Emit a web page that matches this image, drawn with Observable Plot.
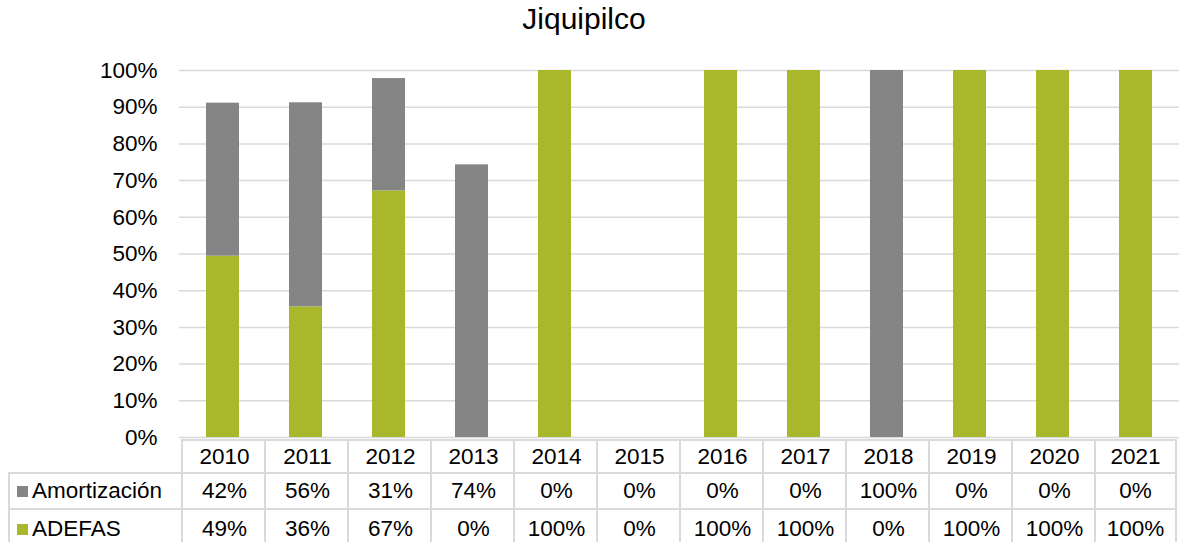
<!DOCTYPE html>
<html>
<head>
<meta charset="utf-8">
<script src="https://cdn.jsdelivr.net/npm/d3@7"></script>
<script src="https://cdn.jsdelivr.net/npm/@observablehq/plot@0.6"></script>
<style>
  html, body { margin: 0; padding: 0; background: #fff; }
  #wrap { position: relative; width: 1180px; height: 542px; overflow: hidden; font-family: "Liberation Sans", Arial, sans-serif; color: #000; }
  #title { width: 1168px; height: 38px; line-height: 38px; text-align: center; font-size: 30px; }
  .cell { position: absolute; box-sizing: border-box; display: flex; align-items: center; justify-content: center; font-size: 22.5px; border-left: 2px solid #dadada; border-top: 2px solid #dadada; }
  .cell.last { border-right: 2px solid #dadada; }
  .lab { justify-content: flex-start; }
  .sw { display: inline-block; width: 11px; height: 11px; margin: 0 4px 0 7px; }
</style>
</head>
<body>
<div id="wrap">
  <div id="title">Jiquipilco</div>
</div>
<script>
const years = ["2010","2011","2012","2013","2014","2015","2016","2017","2018","2019","2020","2021"];
const seriesNames = ["Amortización", "ADEFAS"];
const amortizacion = [41.7, 55.6, 30.6, 74.3, 0, 0, 0, 0, 100, 0, 0, 0];
const adefas = [49.4, 35.6, 67.2, 0, 100, 0, 100, 100, 0, 100, 100, 100];
const colors = ["#858585", "#a8b82a"];
const yTicks = [0, 10, 20, 30, 40, 50, 60, 70, 80, 90, 100];

const data = [];
years.forEach((y, i) => data.push({year: y, series: "ADEFAS", value: adefas[i]}));
years.forEach((y, i) => data.push({year: y, series: "Amortización", value: amortizacion[i]}));

const plot = Plot.plot({
  width: 1180,
  height: 504,
  marginTop: 32,
  marginBottom: 105,
  marginLeft: 179,
  marginRight: 1,
  style: { fontFamily: "Liberation Sans, Arial, sans-serif", fontSize: "22.5px", color: "#000", background: "transparent" },
  x: { domain: years, paddingInner: 0.604, paddingOuter: 0.302, axis: null },
  y: { domain: [0, 100], axis: null },
  color: { domain: seriesNames, range: colors },
  marks: [
    Plot.gridY(yTicks, { stroke: "#d9d9d9", strokeOpacity: 1, strokeWidth: 1.5 }),
    Plot.axisY(yTicks, { label: null, tickSize: 0, tickPadding: 22, tickFormat: d => d + "%", fontSize: 22.5, fill: "#000" }),
    Plot.barY(data, Plot.stackY({ x: "year", y: "value", fill: "series", order: ["ADEFAS", "Amortización"] }))
  ]
});
const wrap = document.getElementById("wrap");
wrap.appendChild(plot);

// Data table aligned with the band scale
const xs = plot.scale("x");
const step = xs.step, bw = xs.bandwidth;
const colLeft = years.map(y => xs.apply(y) + bw / 2 - step / 2);
const rowsTop = [439, 472, 508];
const rowsH = [33, 36, 40];
function cell(left, top, w, h, html, cls) {
  const d = document.createElement("div");
  d.className = "cell " + (cls || "");
  d.style.left = left + "px"; d.style.top = top + "px";
  d.style.width = w + "px"; d.style.height = h + "px";
  d.innerHTML = html;
  wrap.appendChild(d);
}
const lastI = years.length - 1;
years.forEach((y, i) => cell(colLeft[i], rowsTop[0], step + (i === lastI ? 0 : 2), rowsH[0], y, i === lastI ? "last" : ""));
const rowVals = [amortizacion, adefas];
seriesNames.forEach((s, r) => {
  cell(8, rowsTop[r + 1], colLeft[0] - 8 + 2, rowsH[r + 1], `<span class="sw" style="background:${colors[r]}"></span>${s}`, "lab");
  rowVals[r].forEach((v, i) => cell(colLeft[i], rowsTop[r + 1], step + (i === lastI ? 0 : 2), rowsH[r + 1], Math.round(v) + "%", i === lastI ? "last" : ""));
});
</script>
</body>
</html>
